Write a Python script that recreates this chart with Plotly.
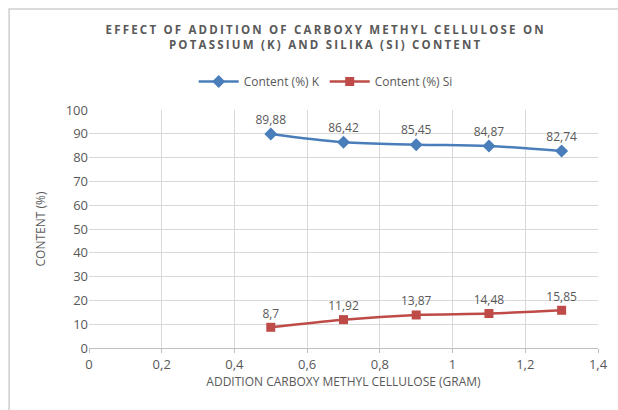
import plotly.graph_objects as go

x_gram = [0.5, 0.7, 0.9, 1.1, 1.3]
content_k = [89.88, 86.42, 85.45, 84.87, 82.74]
content_si = [8.7, 11.92, 13.87, 14.48, 15.85]
x_ticks = [0, 0.2, 0.4, 0.6, 0.8, 1, 1.2, 1.4]
x_ticklabels = ["0", "0,2", "0,4", "0,6", "0,8", "1", "1,2", "1,4"]
y_ticks = [0, 10, 20, 30, 40, 50, 60, 70, 80, 90, 100]

def lbl(v):
    return str(v).replace(".", ",")

gray = "#595959"
font = "Open Sans"

fig = go.Figure()
fig.add_trace(go.Scatter(
    x=x_gram, y=content_k, name="Content (%) K", mode="lines+markers+text",
    line=dict(color="#4A7EBB", width=2.5, shape="spline"),
    marker=dict(symbol="diamond", size=10, color="#4A7EBB"),
    text=[lbl(v) for v in content_k], textposition="top center",
    textfont=dict(color=gray, size=12, family=font), cliponaxis=False,
))
fig.add_trace(go.Scatter(
    x=x_gram, y=content_si, name="Content (%) Si", mode="lines+markers+text",
    line=dict(color="#BE4B48", width=2.5, shape="spline"),
    marker=dict(symbol="square", size=9, color="#BE4B48"),
    text=[lbl(v) for v in content_si], textposition="top center",
    textfont=dict(color=gray, size=12, family=font), cliponaxis=False,
))

fig.update_layout(
    width=618, height=410,
    margin=dict(l=89, r=20, t=110, b=62, autoexpand=False),
    paper_bgcolor="white", plot_bgcolor="white",
    font=dict(family=font, color=gray, size=12),
    title=dict(
        text="EFFECT OF ADDITION OF CARBOXY METHYL CELLULOSE ON<br>POTASSIUM (K) AND SILIKA (SI) CONTENT",
        x=0.527, xanchor="center", y=0.916, yanchor="top",
        font=dict(family=font, size=11.5, color=gray, weight="bold"),
    ),
    legend=dict(orientation="h", x=0.465, xanchor="center", y=1.12, yanchor="middle",
                font=dict(size=12, color=gray, family=font), itemwidth=40),
    showlegend=True,
)
fig.update_xaxes(
    range=[0, 1.4], tickvals=x_ticks, ticktext=x_ticklabels,
    showgrid=True, gridcolor="#D9D9D9", zeroline=False,
    showline=True, linecolor="#BFBFBF", ticks="outside", ticklen=4, tickcolor="#BFBFBF",
    tickfont=dict(size=13, color=gray),
    title=dict(text="ADDITION CARBOXY METHYL CELLULOSE (GRAM)", font=dict(size=12, color=gray), standoff=6),
    automargin=False,
)
fig.update_yaxes(
    range=[0, 100], tickvals=y_ticks,
    showgrid=True, gridcolor="#D9D9D9", zeroline=False, showline=False,
    tickfont=dict(size=13, color=gray),
    title=dict(text="CONTENT (%)", font=dict(size=12, color=gray), standoff=17),
    automargin=False,
)
fig.add_shape(type="rect", xref="paper", yref="paper",
              x0=-0.157, x1=1.06, y0=-0.3, y1=1.424,
              line=dict(color="#CFCFCF", width=1.5))

post = """
document.body.style.margin='0';
document.querySelectorAll('.gtitle').forEach(function(e){e.style.letterSpacing='2.2px';});
"""
fig.write_html("out.html", post_script=post, config={"displayModeBar": False})
